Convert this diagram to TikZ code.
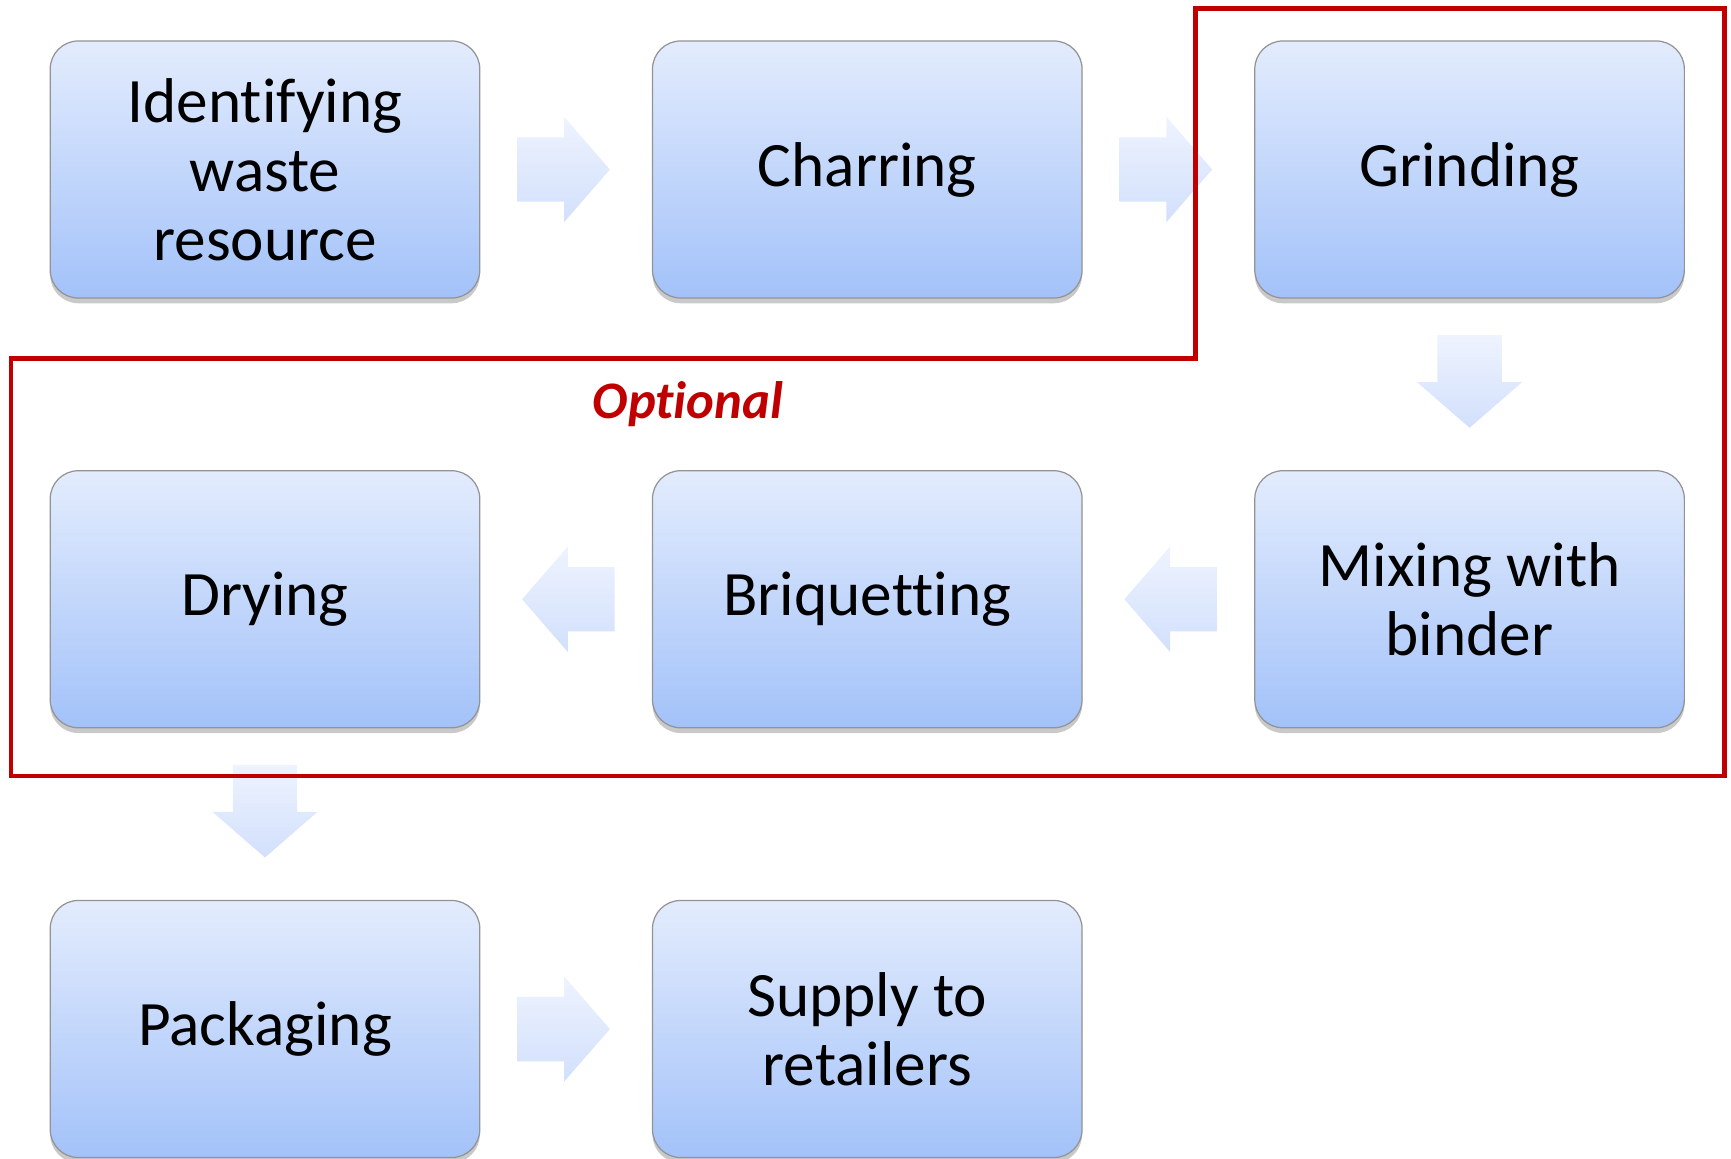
\documentclass[tikz,border=0pt]{standalone}
\usepackage{fontspec}
\setmainfont{Carlito}[Ligatures=NoCommon]
\usepackage{tikz}
\usetikzlibrary{shapes,arrows,shadows,positioning,calc}
\definecolor{boxtop}{HTML}{E3ECFD}
\definecolor{boxbottom}{HTML}{A3C2F9}
\definecolor{arrtop}{HTML}{EEF3FE}
\definecolor{arrbottom}{HTML}{D2E0FC}
\definecolor{optred}{HTML}{C00000}
\tikzset{
  procbox/.style = {rectangle, rounded corners=16pt, draw=gray!85, line width=0.7pt,
    top color=boxtop, bottom color=boxbottom, minimum width=244.5pt, minimum height=146.3pt,
    align=center, font=\fontsize{36}{39.4}\selectfont,
    drop shadow={shadow xshift=0pt, shadow yshift=-3pt, opacity=.3, fill=black!70}},
  arrright/.style = {single arrow, inner xsep=0pt, inner ysep=18.15pt,
    minimum width=59.5pt, minimum height=52.7pt,
    single arrow head extend=11.6pt, single arrow tip angle=98,
    top color=arrtop, bottom color=arrbottom, draw=none},
  arrleft/.style = {arrright, shape border rotate=180},
  arrdown/.style = {arrright, shape border rotate=270, inner xsep=18.15pt, inner ysep=0pt},
  optframe/.style = {optred, line width=2.8pt, line join=miter},
}

\begin{document}
\begin{tikzpicture}[x=0.02cm, y=-0.02cm, node distance=97.6pt]
      \useasboundingbox (0,0) rectangle (1731,1159);

      % row 1
      \node[procbox] (ident) at (265,169.5) {Identifying\\waste\\resource};
      \node[procbox, right=of ident] (char) {Charring};
      \node[procbox, right=of char] (grind) {Grinding};
      % row 2
      \node[procbox, below=of grind] (mix) {Mixing with\\binder};
      \node[procbox, left=of mix] (briq) {Briquetting};
      \node[procbox, left=of briq] (dry) {Drying};
      % row 3
      \node[procbox, below=of dry] (pack) {Packaging};
      \node[procbox, right=of pack] (supply) {Supply to\\retailers};

      % block arrows
      \node[arrright, right=20.8pt of ident] (a1) {};
      \node[arrright, right=20.8pt of char] (a2) {};
      \node[arrdown, below=20.6pt of grind] (a3) {};
      \node[arrleft, left=21pt of mix] (a4) {};
      \node[arrleft, left=21pt of briq] (a5) {};
      \node[arrdown, below=20.6pt of dry] (a6) {};
      \node[arrright, right=20.8pt of pack] (a7) {};

      % optional part
      \draw[optframe] (1195.6,8.8) -- (1724.5,8.8) -- (1724.5,776) -- (11,776)
        -- (11,358.8) -- (1195.6,358.8) -- cycle;
      \node[optred, font=\fontsize{30}{36}\selectfont\bfseries\itshape] (opt) at (688,404) {Optional};
\end{tikzpicture}
\end{document}
